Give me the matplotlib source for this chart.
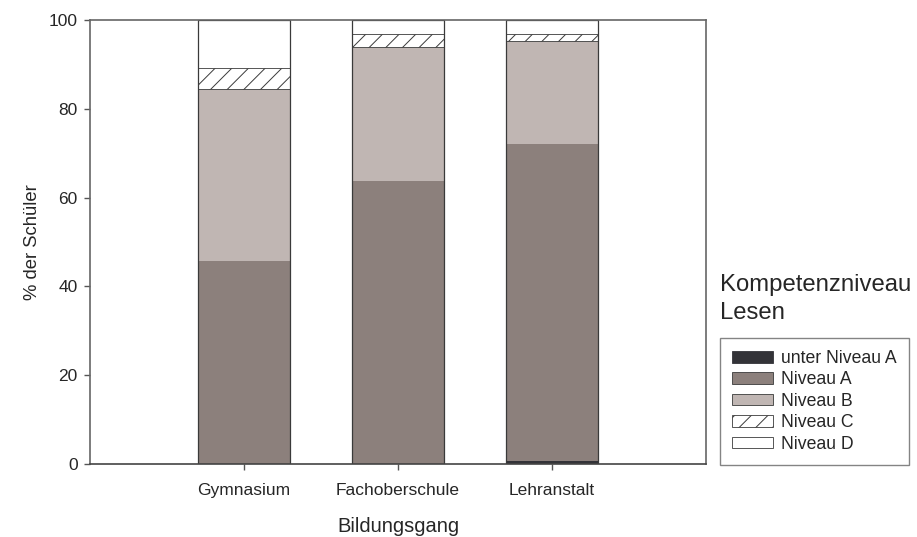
import matplotlib
matplotlib.use("Agg")
import matplotlib.pyplot as plt
from matplotlib.patches import Patch

plt.rcParams['font.family'] = ['Liberation Sans', 'DejaVu Sans']
plt.rcParams['hatch.linewidth'] = 0.7

# --- data (percent of students) ---
bildungsgang = ["Gymnasium", "Fachoberschule", "Lehranstalt"]
unter_a = [0.0, 0.0, 0.6]
niveau_a = [45.8, 63.7, 71.5]
niveau_b = [38.6, 30.3, 23.2]
niveau_c = [4.9, 2.8, 1.5]
niveau_d = [10.7, 3.2, 3.2]

namen = ["unter Niveau A", "Niveau A", "Niveau B", "Niveau C", "Niveau D"]
farben = ["#333338", "#8c807c", "#c0b6b3", "white", "white"]
edge = "#3a3a3a"
textfarbe = "#262626"

fig = plt.figure(figsize=(9.17, 5.37), dpi=100)
ax = fig.add_axes([90 / 917, 73 / 537, 616 / 917, 444 / 537])

x = range(len(bildungsgang))
w = 0.6
bottom = [0.0] * len(bildungsgang)
for werte, farbe, name in zip([unter_a, niveau_a, niveau_b, niveau_c, niveau_d], farben, namen):
    if name == "Niveau C":
        ax.bar(x, werte, w, bottom=bottom, color="white", edgecolor=edge,
               hatch="//", linewidth=0.6)
    else:
        ax.bar(x, werte, w, bottom=bottom, color=farbe, edgecolor=farbe, linewidth=0)
    bottom = [b + v for b, v in zip(bottom, werte)]

# outline of each bar
ax.bar(x, bottom, w, fill=False, edgecolor=edge, linewidth=0.9)

ax.set_xlim(-1, 3)
ax.set_ylim(0, 100)
ax.set_xticks(list(x))
ax.set_xticklabels(bildungsgang, fontsize=12.5, color=textfarbe)
ax.set_yticks([0, 20, 40, 60, 80, 100])
ax.set_yticklabels(["0", "20", "40", "60", "80", "100"], fontsize=12.5, color=textfarbe)
ax.tick_params(axis='y', direction='out', length=4.5, color='#555555', width=1, pad=4.3)
ax.tick_params(axis='x', direction='out', length=4.5, color='#555555', width=1, pad=9)
for s in ax.spines.values():
    s.set_color('#666666')
    s.set_linewidth(1.2)
ax.spines['bottom'].set_color('#444444')

ax.set_xlabel("Bildungsgang", fontsize=14.5, labelpad=14, color=textfarbe)
ax.set_ylabel("% der Schüler", fontsize=13.3, labelpad=5.5, color=textfarbe)

fig.text(720 / 917, 1 - 274 / 537, "Kompetenzniveau\nLesen", fontsize=17.2,
         ha='left', va='top', color=textfarbe, linespacing=1.35)

handles = [Patch(facecolor=f, edgecolor=edge, linewidth=0.6, hatch=("//" if n == "Niveau C" else None))
           for f, n in zip(farben, namen)]
handles[0].set_edgecolor("#333338")
leg = fig.legend(handles, namen, loc='lower left', bbox_to_anchor=(720 / 917, 72 / 537),
                 fontsize=12.7, frameon=True, fancybox=False, edgecolor='#666666',
                 handlelength=2.3, handleheight=0.62, labelspacing=0.25,
                 borderpad=0.7, handletextpad=0.45, borderaxespad=0)
for t in leg.get_texts():
    t.set_color(textfarbe)
leg.get_frame().set_linewidth(1.0)

fig.savefig("out.png", dpi=100)
